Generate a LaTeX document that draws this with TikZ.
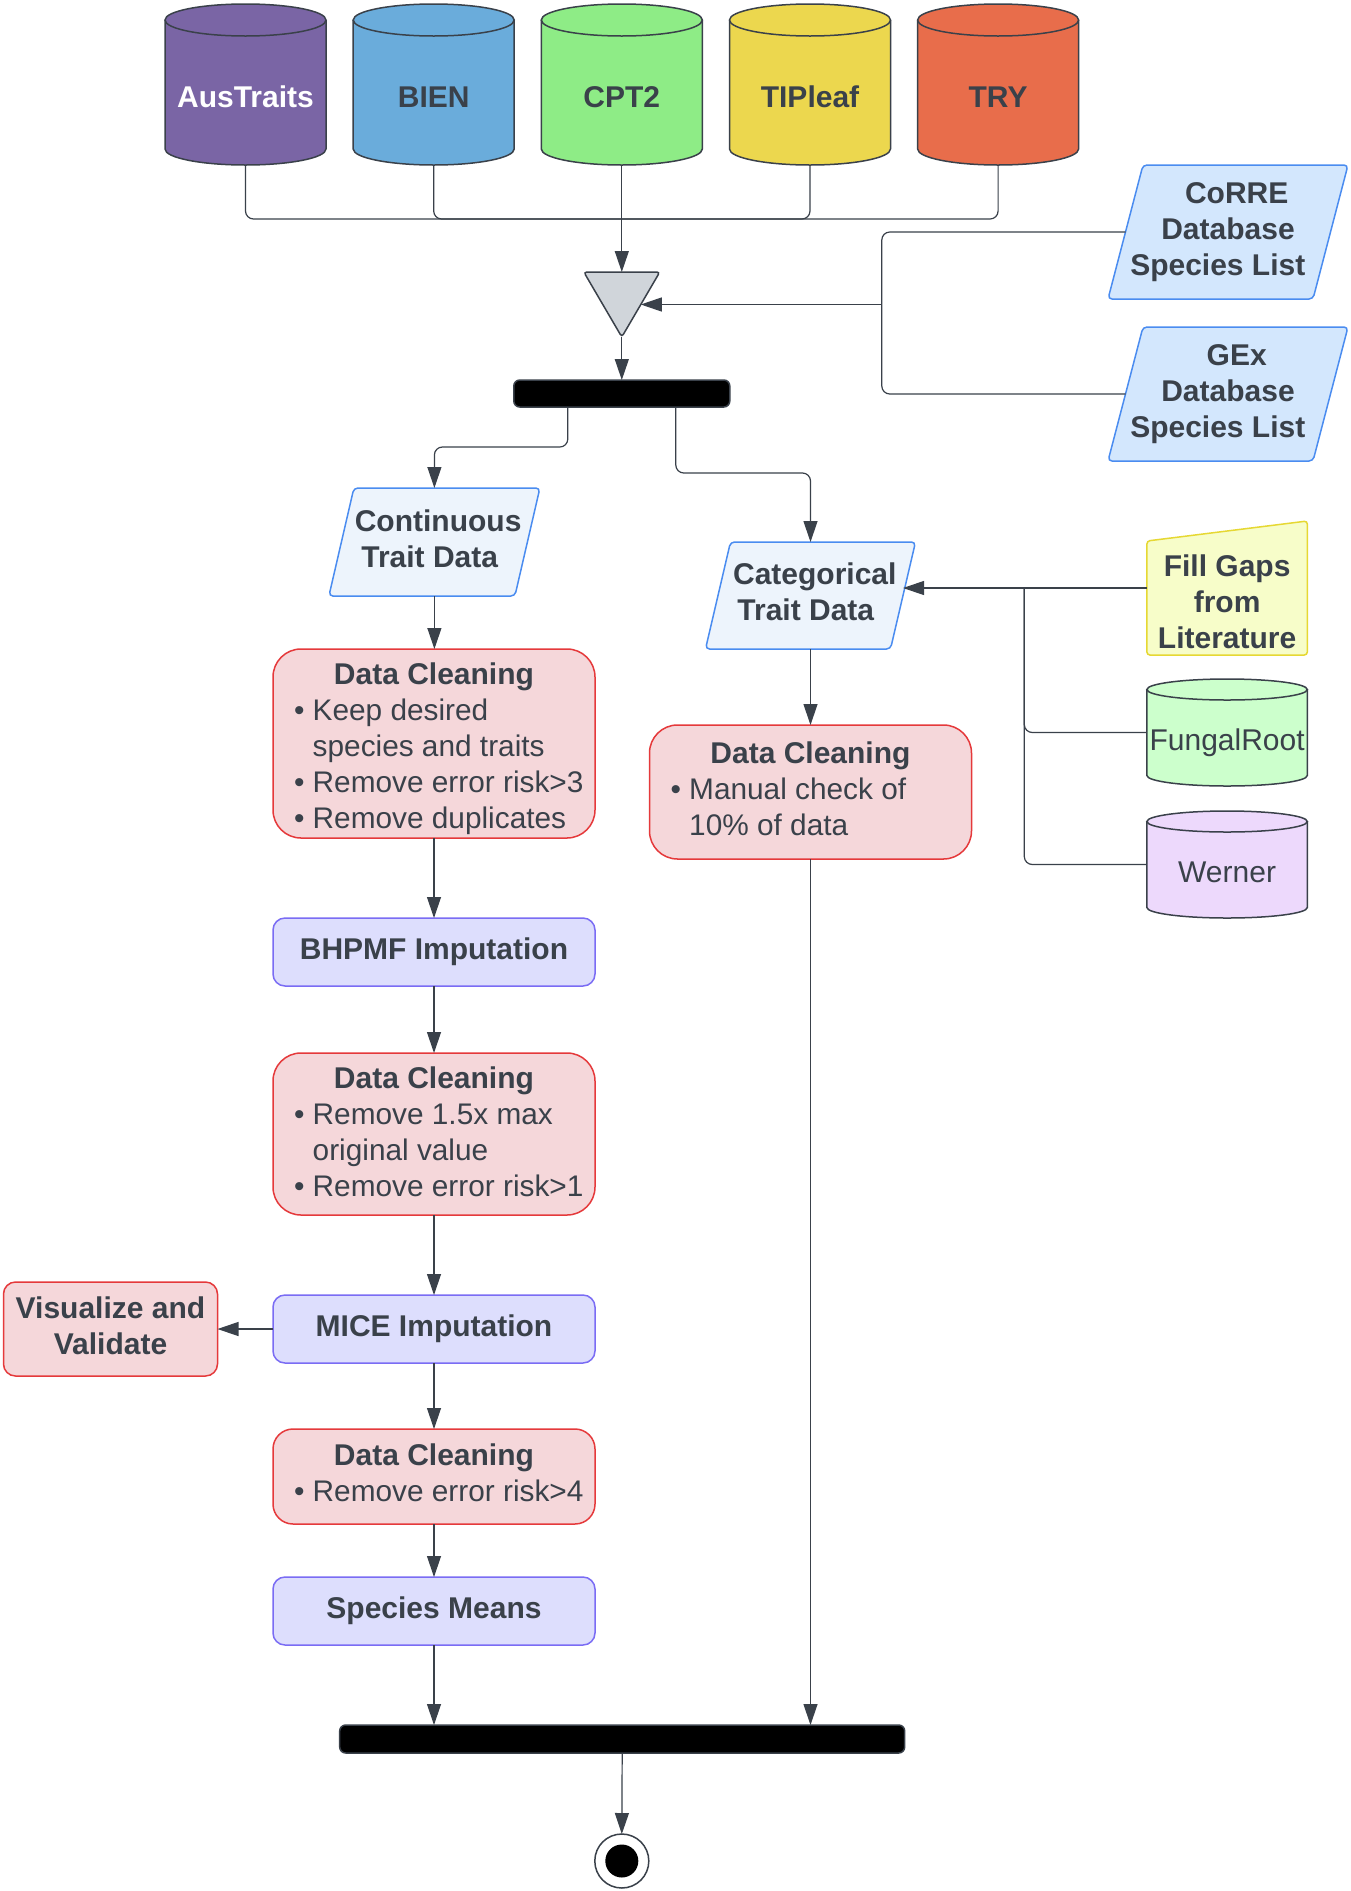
\documentclass[tikz,border=0pt]{standalone}
\usepackage{fontspec}
\setmainfont{Liberation Sans}
\usetikzlibrary{arrows.meta,calc,backgrounds}
\definecolor{txt}{HTML}{3A414A}
\definecolor{lnc}{HTML}{3A414A}
\definecolor{cylb}{HTML}{3A414A}
\definecolor{ausc}{HTML}{7A65A5}
\definecolor{bienc}{HTML}{6AACDB}
\definecolor{cptc}{HTML}{8EEC86}
\definecolor{tipc}{HTML}{ECD74E}
\definecolor{tryc}{HTML}{E86D4B}
\definecolor{corf}{HTML}{D3E7FD}
\definecolor{corb}{HTML}{4A8CF0}
\definecolor{contf}{HTML}{EDF4FC}
\definecolor{dcf}{HTML}{F5D7DA}
\definecolor{dcb}{HTML}{E5393B}
\definecolor{impf}{HTML}{DDDEFD}
\definecolor{impb}{HTML}{7A6CF4}
\definecolor{fgf}{HTML}{F7FDC9}
\definecolor{fgb}{HTML}{E6D833}
\definecolor{fungf}{HTML}{CCFFCC}
\definecolor{werf}{HTML}{EDD9FC}
\definecolor{trif}{HTML}{D0D5DA}
\newcommand\dnbox[2]{\raisebox{-#1}[\height][\depth]{#2}}
\newcommand\ml[2]{\dnbox{#1}{\begin{tabular}{@{}c@{}}#2\end{tabular}}}
\newcommand\rg{\fontsize{14.9pt}{18pt}\selectfont}
\newcommand\dcbody[2]{\dnbox{#1}{\parbox{140pt}{\raggedright\makebox[\linewidth]{\bfseries Data Cleaning}\\\rg #2}}}
\newcommand\bul{\textbullet\ }
\newcommand\bulsp{\phantom{\textbullet\ }}
\newcommand\cylshape[4]{%
  \fill[#2] ([yshift=-#4]#1.north west) rectangle ([yshift=#4]#1.south east);
  \fill[#2] ([yshift=#4]#1.south) ellipse[x radius=#3, y radius=#4];
  \draw[cylb,line width=0.75pt] ([yshift=-#4]#1.north west) -- ([yshift=#4]#1.south west) arc[start angle=180,end angle=360,x radius=#3,y radius=#4] -- ([yshift=-#4]#1.north east);
  \filldraw[fill=#2,draw=cylb,line width=0.75pt] ([yshift=-#4]#1.north) ellipse[x radius=#3, y radius=#4];
}
\newcommand\parashape[4]{%
  \filldraw[fill=#2,draw=#3,line width=0.75pt,rounded corners=2pt] ([xshift=#4]#1.north west) -- ([xshift=#4]#1.north east) -- ([xshift=-#4]#1.south east) -- ([xshift=-#4]#1.south west) -- cycle;
}
\begin{document}
\begin{tikzpicture}[x=0.5pt,y=-0.5pt,
  lbl/.style={font=\fontsize{15pt}{18pt}\selectfont, text=txt, inner sep=0pt, outer sep=0pt, align=center},
  lblb/.style={lbl, font=\fontsize{15pt}{18pt}\selectfont\bfseries},
  cyl/.style={lblb, minimum width=80.5pt, minimum height=80.5pt},
  bx/.style={lbl, line width=0.75pt},
  dc/.style={bx, draw=dcb, fill=dcf, rounded corners=14pt, minimum width=161pt},
  imp/.style={bx, draw=impb, fill=impf, rounded corners=6pt, minimum width=161pt, minimum height=34pt, font=\fontsize{15pt}{18pt}\selectfont\bfseries},
  bar/.style={draw=cylb, fill=black, line width=0.75pt, rounded corners=3pt, inner sep=0pt, outer sep=0pt},
  ln/.style={draw=lnc, line width=0.6pt, rounded corners=4pt},
  arr/.style={ln, -{Triangle[length=10.5pt,width=7pt]}},
]
\useasboundingbox (0,0) rectangle (1350,1891);

% top databases
\node[cyl, text=white] (aus) at (245.5,84.5) {\dnbox{6.25pt}{AusTraits}};
\node[cyl] (bien) at (433.7,84.5) {\dnbox{6.25pt}{BIEN}};
\node[cyl] (cpt) at (621.8,84.5) {\dnbox{6.25pt}{CPT2}};
\node[cyl] (tip) at (810,84.5) {\dnbox{6.25pt}{TIPleaf}};
\node[cyl] (try) at (998.1,84.5) {\dnbox{6.25pt}{TRY}};

\node[lbl, minimum width=38pt, minimum height=32.5pt] (tri) at (621.8,304.5) {};
\node[lblb, minimum width=102.5pt, minimum height=67pt] (corre) at (1228,232) {\hspace*{8.7pt}CoRRE\\Database\\Species List\hspace*{10.2pt}};
\node[lblb, minimum width=102.5pt, minimum height=67pt] (gex) at (1228,394) {\hspace*{8.7pt}GEx\\Database\\Species List\hspace*{10.2pt}};
\node[bar, minimum width=108pt, minimum height=13.5pt] (bar1) at (621.8,393.5) {};

\node[lblb, minimum width=93pt, minimum height=54pt] (cont) at (434.4,542) {\ml{0pt}{\hspace*{3.7pt}Continuous\\Trait Data\hspace*{4.7pt}}};
\node[lblb, minimum width=92.5pt, minimum height=53.5pt] (cat) at (810.5,595.5) {\ml{0pt}{\hspace*{4.3pt}Categorical\\Trait Data\hspace*{4.7pt}}};

\node[lblb, minimum width=80.2pt, minimum height=67pt] (fill) at (1227.1,588) {\ml{8.7pt}{Fill Gaps\\from\\Literature}};
\node[lbl, minimum width=80.2pt, minimum height=53.5pt] (fung) at (1227.1,732.5) {\dnbox{4.95pt}{FungalRoot}};
\node[lbl, minimum width=80.2pt, minimum height=53.5pt] (wer) at (1227.1,864.5) {\dnbox{3.75pt}{Werner}};

\node[dc, minimum height=94.5pt] (dc1) at (434,743.5) {\dcbody{2.7pt}{\mbox{\bul Keep desired}\\\mbox{\bulsp species and traits}\\\mbox{\bul Remove error risk>3}\\\mbox{\bul Remove duplicates}}};
\node[imp] (bhpmf) at (434,952) {BHPMF Imputation};
\node[dc, minimum height=81pt] (dc2) at (434,1134) {\dcbody{-1.2pt}{\mbox{\bul Remove 1.5x max}\\\mbox{\bulsp original value}\\\mbox{\bul Remove error risk>1}}};
\node[imp] (mice) at (434,1329) {MICE Imputation};
\node[bx, font=\fontsize{15pt}{18pt}\selectfont\bfseries, draw=dcb, fill=dcf, rounded corners=6pt, minimum width=107pt, minimum height=47pt] (vis) at (110.5,1329) {\ml{0pt}{Visualize and\\Validate}};
\node[dc, rounded corners=10pt, minimum height=47.5pt] (dc3) at (434,1476.5) {\dcbody{-1.8pt}{\mbox{\bul Remove error risk>4}}};
\node[imp] (sm) at (434,1611) {Species Means};
\node[dc, minimum height=67pt] (dccat) at (810.5,792) {\dcbody{-1.8pt}{\mbox{\bul Manual check of}\\\mbox{\bulsp 10\% of data}}};
\node[bar, minimum width=282.5pt, minimum height=14pt] (bar2) at (622.2,1739) {};
\node[circle, draw=cylb, fill=white, line width=0.75pt, minimum size=27pt, inner sep=0pt, outer sep=0pt] (end) at (621.8,1861) {};
\fill[black] (end.center) circle[radius=8.25pt];

\begin{pgfonlayer}{background}
\fill[white] (0,0) rectangle (1350,1891);
\cylshape{aus}{ausc}{40.25pt}{8pt}
\cylshape{bien}{bienc}{40.25pt}{8pt}
\cylshape{cpt}{cptc}{40.25pt}{8pt}
\cylshape{tip}{tipc}{40.25pt}{8pt}
\cylshape{try}{tryc}{40.25pt}{8pt}
\filldraw[fill=trif,draw=cylb,line width=0.75pt,rounded corners=1.5pt] (tri.north west) -- (tri.north east) -- (tri.south) -- cycle;
\parashape{corre}{corf}{corb}{8.75pt}
\parashape{gex}{corf}{corb}{8.75pt}
\parashape{cont}{contf}{corb}{6.25pt}
\parashape{cat}{contf}{corb}{6.25pt}
\filldraw[fill=fgf,draw=fgb,line width=0.75pt,rounded corners=1.5pt] ([yshift=-10pt]fill.north west) -- (fill.north east) -- (fill.south east) -- (fill.south west) -- cycle;
\cylshape{fung}{fungf}{40.1pt}{5.25pt}
\cylshape{wer}{werf}{40.1pt}{5.25pt}
\end{pgfonlayer}

% connectors
\coordinate (bus) at (621.8,219);
\foreach \c in {aus,bien,tip,try} \draw[ln] (\c.south) |- (bus);
\draw[arr] (cpt.south) -- (tri.north);
\coordinate (trin) at ($(tri.north east)!0.5!(tri.south)$);
\coordinate (jx) at ($(trin)+(241,0)$);
\draw[ln] (corre.west) -| (jx);
\draw[ln] (gex.west) -| (jx);
\draw[arr] (jx) -- (trin);
\draw[arr] (tri.south) -- (bar1.north);
\draw[arr] ([xshift=-27pt]bar1.south) |- ([yshift=20.5pt]cont.north) -- (cont.north);
\draw[arr] ([xshift=27pt]bar1.south) |- ([yshift=34.5pt]cat.north) -- (cat.north);
\draw[arr] (fill.west) -- (fill.west -| cat.east);
\coordinate (jy) at ($(fill.west)+(-122.6,0)$);
\draw[ln] (fung.west) -| (jy);
\draw[ln] (wer.west) -| (jy);
\draw[arr] (cont.south) -- (cont.south |- dc1.north);
\draw[arr] (dc1.south) -- (bhpmf.north);
\draw[arr] (bhpmf.south) -- (dc2.north);
\draw[arr] (dc2.south) -- (mice.north);
\draw[arr] (mice.south) -- (dc3.north);
\draw[arr] (dc3.south) -- (sm.north);
\draw[arr] (sm.south) -- (sm.south |- bar2.north);
\draw[arr] (mice.west) -- (vis.east);
\draw[arr] (cat.south) -- (cat.south |- dccat.north);
\draw[arr] (dccat.south) -- (dccat.south |- bar2.north);
\draw[arr] (bar2.south) -- (end.north);
\end{tikzpicture}
\end{document}
